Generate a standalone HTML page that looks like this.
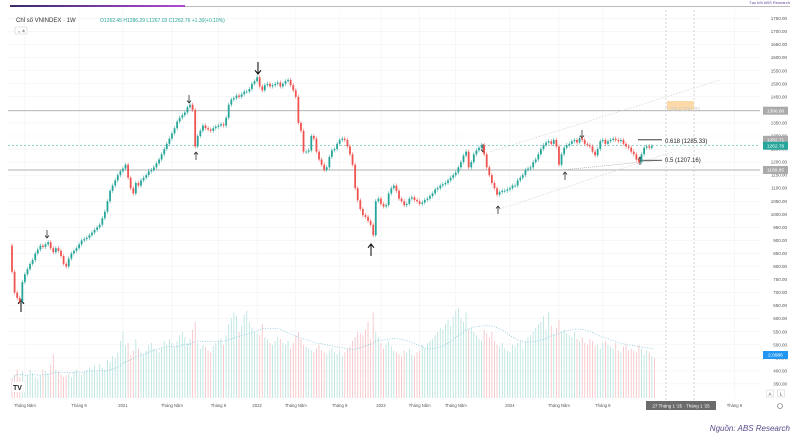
<!DOCTYPE html>
<html><head><meta charset="utf-8"><style>
html,body{margin:0;padding:0;background:#fff;width:800px;height:434px;overflow:hidden;font-family:"Liberation Sans","Noto Sans CJK SC",sans-serif}
svg{display:block}
</style></head><body>
<svg id="chart" width="800" height="434" xmlns="http://www.w3.org/2000/svg">
<rect x="0" y="0" width="800" height="434" fill="#fff"/>
<defs><linearGradient id="hg" x1="0" x2="1"><stop offset="0" stop-color="#3a2a6a"/><stop offset="1" stop-color="#b04ad0"/></linearGradient></defs>
<rect x="10" y="5" width="175" height="2" fill="url(#hg)"/>
<rect x="185" y="6" width="605" height="1" fill="#bbb"/>
<text x="790" y="4" font-size="4" fill="#6a4aa0" text-anchor="end">Tạo bởi ABS Research</text>
<g id="grid"></g>
<g id="vol"></g>
<g id="overlays"></g>
<g id="candles"></g>
<g id="axis"></g>
<text x="16" y="22" font-size="6" fill="#333">Chỉ số VNINDEX · 1W</text>
<text x="100" y="22" font-size="5" fill="#26a69a">O1262.45 H1286.29 L1267.03 C1262.76 +1.30(+0.10%)</text>
<rect x="15" y="27" width="12" height="7" fill="#fff" stroke="#ccc" stroke-width="0.6" rx="1"/>
<text x="21" y="32.5" font-size="4.5" fill="#333" text-anchor="middle">⌄ 4</text>
<g><rect x="12" y="382" width="13" height="10" fill="#fff"/><text x="13" y="390" font-size="7" font-weight="bold" fill="#222">TV</text></g>
<text x="790" y="431" font-size="8" font-style="italic" fill="#5a4a8a" text-anchor="end">Nguồn: ABS Research</text>
</svg>
<script>
const closes=[780,700,680,665,740,770,790,810,825,850,865,
880,875,885,893,870,855,870,860,840,810,
800,830,850,860,870,885,900,905,910,920,
930,940,950,960,985,1010,1050,1090,1110,1130,
1150,1165,1175,1190,1140,1100,1080,1120,1110,1130,
1140,1150,1165,1170,1180,1195,1210,1230,1250,1270,
1290,1310,1330,1355,1370,1380,1390,1410,1420,1400,
1260,1300,1320,1340,1330,1325,1320,1330,1335,1340,
1345,1340,1370,1420,1440,1445,1455,1450,1460,1470,
1470,1480,1500,1510,1525,1490,1475,1495,1500,1490,
1495,1500,1505,1490,1500,1510,1515,1495,1475,1450,
1350,1320,1240,1240,1245,1300,1290,1240,1210,1190,
1170,1180,1220,1245,1250,1270,1285,1290,1285,1260,
1230,1190,1100,1054,1020,997,990,975,960,920,
1050,1060,1040,1030,1035,1080,1100,1110,1090,1060,
1050,1035,1040,1060,1065,1055,1050,1040,1045,1055,
1060,1070,1080,1095,1100,1110,1115,1120,1130,1140,
1150,1160,1180,1200,1225,1240,1180,1200,1230,1245,
1255,1265,1230,1180,1150,1120,1100,1075,1085,1090,
1090,1095,1100,1110,1110,1130,1140,1150,1170,1175,
1180,1200,1210,1230,1250,1265,1275,1280,1270,1285,
1260,1190,1230,1255,1265,1270,1280,1285,1275,1292,
1285,1270,1265,1260,1240,1226,1250,1280,1285,1270,
1280,1285,1290,1285,1280,1285,1270,1260,1255,1240,
1230,1210,1200,1230,1255,1260,1255,1262];
const firstOpen=880;
const volumes=[20,25,30,22,28,18,24,30,26,22,20,
24,30,28,26,35,46,30,28,25,22,
24,26,22,28,30,26,24,28,30,32,
30,34,28,36,32,30,40,38,44,42,
48,60,70,55,58,45,50,62,52,48,
46,50,56,58,52,50,48,54,60,56,
62,58,54,60,66,70,64,58,62,72,
80,58,52,56,54,50,48,55,58,60,
62,56,66,78,84,90,86,70,76,88,
92,80,74,70,68,66,78,64,62,58,
56,60,64,62,58,56,60,52,58,66,
70,62,56,54,52,50,48,52,56,50,
48,46,50,52,48,46,50,44,48,52,
54,60,64,70,68,66,72,80,62,90,
70,64,58,52,56,60,54,50,48,46,
44,50,48,52,46,44,48,50,56,52,
58,60,62,66,70,74,72,78,82,76,
86,92,95,84,80,90,72,74,70,66,
62,60,72,68,64,70,60,56,54,58,
52,50,48,56,54,58,60,52,60,64,
66,70,74,78,80,86,72,90,76,68,
74,82,70,72,68,66,64,70,62,60,
64,58,56,62,60,54,56,52,58,60,
56,54,52,58,50,48,54,56,50,52,
50,48,56,52,46,50,48,44,42];
const priceTicks=[1750,1700,1650,1600,1550,1500,1450,1350,1300,1250,1200,1150,1100,1050,1000,950,900,850,800,750,700,650,600,550,500,450,400,350];
const timeLabels=["Tháng Năm","Tháng 9","2021","Tháng Năm","Tháng 9","2022","Tháng Năm","Tháng 9","2023","Tháng Năm","Tháng Năm","2024","Tháng Năm","Tháng 9","Tháng 9"];
const timeIdx=[5,26,43,62,80,95,110,127,143,158,172,193,212,229,280];
const NS='http://www.w3.org/2000/svg';
const X=i=>12+i*2.58;
const Y=v=>57.7+(1600-v)*0.261;
const VY=v=>398-v*0.95;
function mk(p,t,a){const e=document.createElementNS(NS,t);for(const k in a)e.setAttribute(k,a[k]);p.appendChild(e);return e;}
const grid=document.getElementById('grid'),vol=document.getElementById('vol'),cg=document.getElementById('candles'),ax=document.getElementById('axis'),ov=document.getElementById('overlays');
priceTicks.forEach(v=>{const l=mk(grid,'line',{x1:8,x2:760,y1:Y(v),y2:Y(v),stroke:'#f2f2f2','stroke-width':0.6});

});
timeIdx.forEach(i=>{const l=mk(grid,'line',{x1:X(i),x2:X(i),y1:10,y2:398,stroke:'#f2f2f2','stroke-width':0.6});

});
const opens=closes.map((c,i)=>i?closes[i-1]:firstOpen);
volumes.forEach((v,i)=>{const up=closes[i]>=opens[i];
const r=mk(vol,'rect',{x:X(i)-0.4,y:VY(v),width:0.8,height:398-VY(v),fill:up?'#b5e2dd':'#f6c0c3'});

});
let pts=[];for(let i=0;i<volumes.length;i++){const s=volumes.slice(Math.max(0,i-19),i+1);pts.push(X(i)+','+VY(s.reduce((a,b)=>a+b,0)/s.length));}
const ma=mk(vol,'polyline',{points:pts.join(' '),fill:'none',stroke:'#7fc4d8','stroke-width':0.7,'stroke-dasharray':'1,1.5'});


closes.forEach((c,i)=>{const o=opens[i],up=c>=o,col=up?'#26a69a':'#ef5350';
const hi=Math.max(o,c)+8,lo=Math.min(o,c)-8;
const w=mk(cg,'line',{x1:X(i),x2:X(i),y1:Y(hi),y2:Y(lo),stroke:col,'stroke-width':0.5});


const b=mk(cg,'rect',{x:X(i)-0.9,y:Y(Math.max(o,c)),width:1.8,height:Math.max(0.8,Math.abs(Y(o)-Y(c))),fill:col});

});
function line(a,n){const l=mk(ov,'line',a);return l;}
line({x1:8,x2:760,y1:Y(1396.86),y2:Y(1396.86),stroke:'#999','stroke-width':0.8},'resistance-line');
line({x1:8,x2:760,y1:Y(1169.85),y2:Y(1169.85),stroke:'#999','stroke-width':0.8},'support-line');
line({x1:8,x2:760,y1:Y(1262.76),y2:Y(1262.76),stroke:'#26a69a','stroke-width':0.5,'stroke-dasharray':'2,2'},'last-price-line');
line({x1:666,x2:666,y1:10,y2:400,stroke:'#bbb','stroke-width':0.6,'stroke-dasharray':'2,2'},'vertical-marker-1');
line({x1:694,x2:694,y1:10,y2:400,stroke:'#bbb','stroke-width':0.6,'stroke-dasharray':'2,2'},'vertical-marker-2');
line({x1:490,x2:720,y1:152,y2:80,stroke:'#ccc','stroke-width':0.6,'stroke-dasharray':'1.5,1.5'},'channel-upper');
line({x1:497,x2:672,y1:210,y2:152,stroke:'#ccc','stroke-width':0.6,'stroke-dasharray':'1.5,1.5'},'channel-lower');
line({x1:562,x2:662,y1:170,y2:160,stroke:'#999','stroke-width':0.6,'stroke-dasharray':'1,1'},'channel-mid');
line({x1:638,x2:662,y1:Y(1285.33),y2:Y(1285.33),stroke:'#222','stroke-width':0.8},'fib-0618-line');
line({x1:638,x2:662,y1:Y(1207.16),y2:Y(1207.16),stroke:'#222','stroke-width':0.8},'fib-05-line');
const orr=mk(ov,'rect',{x:667,y:101,width:27,height:9,fill:'#fbd9a8'});


function txt(p,x,y,s,sz,fill,n,anchor){const t=mk(p,'text',{x:x,y:y,'font-size':sz,fill:fill,'text-anchor':anchor||'start'});t.textContent=s;return t;}
txt(ov,665,143,'0.618 (1285.33)',6,'#222','fib-0618-label');
txt(ov,665,162,'0.5 (1207.16)',6,'#222','fib-05-label');
txt(ov,665,111,'0.786 (1396.86)',5,'#ccc','fib-0786-label');
[[47,230,0,1],[189,95,0,1],[258,62,0,1.5],[483,144,0,1],[582,130,0,1],[21,312,1,1.5],[196,160,1,1],[371,256,1,1.5],[498,214,1,1],[565,180,1,1],[640,165,1,1]].forEach(a=>{
const [x,y,up,s]=a;const g=mk(ov,'g',{});


const h=8*s,d=up?1:-1;
mk(g,'line',{x1:x,x2:x,y1:y,y2:y-d*h,stroke:'#111','stroke-width':0.7*s});
mk(g,'polyline',{points:`${x-2*s},${y-d*(h-2.5*s)} ${x},${y-d*h} ${x+2*s},${y-d*(h-2.5*s)}`,fill:'none',stroke:'#111','stroke-width':0.7*s});});
priceTicks.forEach(v=>txt(ax,787,Y(v)+1.5,v.toFixed(2),4.5,'#555','price-tick','end'));
function box(y,s,fill,tc,n){const r=mk(ax,'rect',{x:763,y:y-4,width:25,height:8,fill:fill});txt(ax,775.5,y+1.7,s,4.8,tc,n,'middle');}
box(Y(1396.86),'1396.86','#aaa','#fff','label-1396');
box(Y(1169.85),'1169.85','#aaa','#fff','label-1169');
box(Y(1285.33),'1282.71','#aaa','#fff','label-1282');
box(Y(1262.76),'1262.76','#26a69a','#fff','label-last-price');
box(355,'2.0986','#2196f3','#fff','label-volume');
timeIdx.forEach((i,k)=>txt(ax,X(i),407,timeLabels[k],4.2,'#555','time-tick','middle'));
const db=mk(ax,'rect',{x:646,y:401,width:70,height:9,fill:'#6b6b6b'});
txt(ax,681,407.5,"27 Tháng 1 '25 · Tháng 1 '25",4.5,'#fff','crosshair-date','middle');
[['A',770],['L',781]].forEach(b=>{const r=mk(ax,'rect',{x:b[1]-3.5,y:390,width:7,height:7,fill:'#fff',stroke:'#ccc','stroke-width':0.5});txt(ax,b[1],395.5,b[0],4.5,'#333','scale-button-label','middle');});
const gc=mk(ax,'circle',{cx:780,cy:406,r:2.5,fill:'none',stroke:'#666','stroke-width':0.6});
</script>
</body></html>
